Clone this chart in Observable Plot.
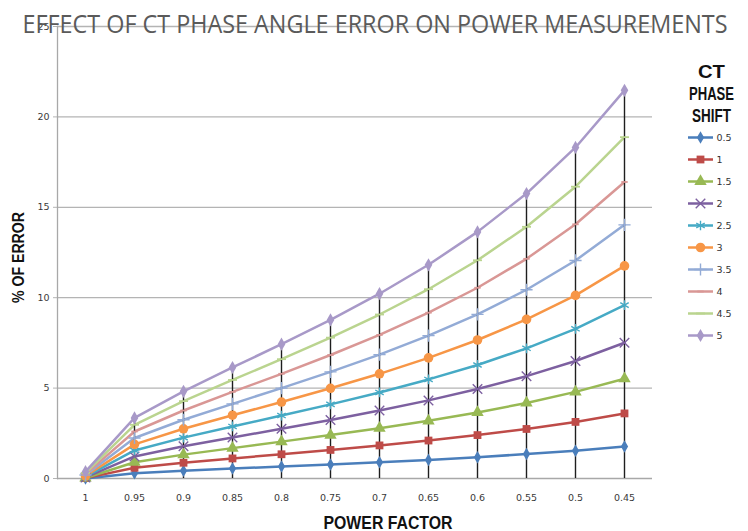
<!DOCTYPE html>
<html>
<head>
<meta charset="utf-8">
<script src="https://cdn.jsdelivr.net/npm/d3@7"></script>
<script src="https://cdn.jsdelivr.net/npm/@observablehq/plot@0.6"></script>
<style>
  html, body { margin: 0; padding: 0; background: #fff; }
  #wrap { position: relative; width: 748px; height: 531px; overflow: hidden; }
  #legend { position: absolute; left: 650px; top: 126px; width: 98px; height: 220px; }
  #legend svg { max-width: none; }
</style>
</head>
<body>
<div id="wrap"><div id="chart"></div><div id="legend"></div></div>
<script>
// ---- data ----
const powerFactors = ["1", "0.95", "0.9", "0.85", "0.8", "0.75", "0.7", "0.65", "0.6", "0.55", "0.5", "0.45"];
const phaseShifts = ["0.5", "1", "1.5", "2", "2.5", "3", "3.5", "4", "4.5", "5"];
const err05 = [0.00, 0.29, 0.43, 0.55, 0.66, 0.78, 0.90, 1.03, 1.18, 1.35, 1.54, 1.77];
const err10 = [0.02, 0.59, 0.87, 1.11, 1.34, 1.58, 1.83, 2.10, 2.40, 2.74, 3.13, 3.60];
const err15 = [0.03, 0.90, 1.32, 1.68, 2.04, 2.40, 2.78, 3.19, 3.65, 4.18, 4.79, 5.52];
const err20 = [0.06, 1.22, 1.78, 2.27, 2.75, 3.24, 3.76, 4.32, 4.95, 5.66, 6.50, 7.51];
const err25 = [0.10, 1.55, 2.26, 2.88, 3.48, 4.10, 4.76, 5.48, 6.28, 7.20, 8.28, 9.59];
const err30 = [0.14, 1.89, 2.75, 3.50, 4.23, 4.99, 5.79, 6.67, 7.66, 8.80, 10.13, 11.76];
const err35 = [0.19, 2.24, 3.25, 4.13, 5.00, 5.90, 6.85, 7.90, 9.08, 10.44, 12.06, 14.03];
const err40 = [0.24, 2.60, 3.76, 4.79, 5.79, 6.83, 7.94, 9.17, 10.55, 12.15, 14.06, 16.40];
const err45 = [0.31, 2.97, 4.28, 5.45, 6.60, 7.79, 9.07, 10.47, 12.07, 13.92, 16.14, 18.88];
const err50 = [0.38, 3.35, 4.82, 6.14, 7.43, 8.77, 10.22, 11.82, 13.64, 15.76, 18.31, 21.47];
const yTicks = [0, 5, 10, 15, 20, 25];
const titleText = "EFFECT OF CT PHASE ANGLE ERROR ON POWER MEASUREMENTS";
const yTitle = "% OF ERROR";
const xTitle = "POWER FACTOR";
const legendTitleLines = ["CT", "PHASE", "SHIFT"];

// ---- styles ----
const colors = ["#4A7EBB", "#BE4B48", "#98B954", "#7D60A0", "#46AAC5", "#F79646", "#93ABD6", "#D99795", "#BAD48F", "#A899C8"];
function dash(halfLen) {
  return { draw(ctx) { ctx.moveTo(-halfLen, -0.9); ctx.lineTo(halfLen, -0.9); ctx.lineTo(halfLen, 0.9); ctx.lineTo(-halfLen, 0.9); ctx.closePath(); } };
}
const markers = [
  { symbol: "diamond", r: 3.8, filled: true },
  { symbol: "square", r: 4.4, filled: true },
  { symbol: "triangle", r: 4.6, filled: true },
  { symbol: "times", r: 4.4, filled: false },
  { symbol: "asterisk", r: 4.6, filled: false },
  { symbol: "circle", r: 4.8, filled: true },
  { symbol: "plus", r: 4, filled: false },
  { symbol: dash(3.2), r: 3, filled: true },
  { symbol: dash(4.5), r: 3, filled: true },
  { symbol: "diamond", r: 4, filled: true }
];

// ---- tidy table ----
const allSeries = [err05, err10, err15, err20, err25, err30, err35, err40, err45, err50];
const rows = [];
allSeries.forEach((vals, si) => vals.forEach((v, pi) => rows.push({ shift: phaseShifts[si], pf: powerFactors[pi], err: v })));
const drops = powerFactors.map((pf, i) => ({ pf, top: err50[i] }));

function markerOpts(i, base) {
  const m = markers[i];
  const opts = Object.assign({ symbol: m.symbol, r: m.r }, base);
  if (m.filled) { opts.fill = colors[i]; opts.stroke = "none"; }
  else { opts.stroke = colors[i]; opts.strokeWidth = 1.4; opts.fill = "none"; }
  return opts;
}
const markerMarks = phaseShifts.map((s, i) =>
  Plot.dot(rows.filter(d => d.shift === s), markerOpts(i, { x: "pf", y: "err" })));

const bold = { fontSize: 18, fontWeight: "bold", fill: "#111", fontFamily: "Liberation Sans", textAnchor: "middle" };

const chart = Plot.plot({
  width: 748,
  height: 531,
  marginLeft: 57,
  marginRight: 96,
  marginTop: 26,
  marginBottom: 53,
  style: { fontFamily: "DejaVu Sans", fontSize: "9.5px", color: "#3a3a3a", background: "#fff" },
  x: { type: "point", domain: powerFactors, padding: 0.5 },
  y: { domain: [0, 25] },
  color: { domain: phaseShifts, range: colors },
  marks: [
    Plot.gridY({ ticks: [5, 10, 15, 20, 25], stroke: "#b4b4b4", strokeOpacity: 1, strokeWidth: 1.3 }),
    Plot.axisY({ ticks: yTicks, tickSize: 4, tickPadding: 4, stroke: "#b4b4b4", label: null }),
    Plot.axisX({ tickSize: 0, tickPadding: 16, label: null }),
    Plot.frame({ anchor: "left", stroke: "#a8a8a8", strokeWidth: 1.3 }),
    Plot.ruleY([0], { stroke: "#a8a8a8", strokeWidth: 1.3 }),
    Plot.line(rows, { x: "pf", y: "err", z: "shift", stroke: "shift", strokeWidth: 2.5 }),
    Plot.ruleX(drops, { x: "pf", y1: 0, y2: "top", stroke: "#1e1e1e", strokeWidth: 1.4 }),
    ...markerMarks,
    Plot.text([titleText], { frameAnchor: "top", dx: 20, dy: 6, lineAnchor: "bottom", textAnchor: "middle", fontSize: 25, fill: "#5a5a5a", fontFamily: "Open Sans" }),
    Plot.text([yTitle], { ...bold, fontSize: 17, frameAnchor: "left", rotate: -90, dx: -39, dy: 5, lineAnchor: "middle" }),
    Plot.text([xTitle], { ...bold, frameAnchor: "bottom", dx: 33, dy: 50, lineAnchor: "bottom" }),
    ...legendTitleLines.map((t, i) =>
      Plot.text([t], { ...bold, frameAnchor: "top-right", dx: 59, dy: 51 + 22 * i, lineAnchor: "bottom" }))
  ]
});
document.getElementById("chart").appendChild(chart);

// condensed look for titles
const fit = { [titleText]: 705, [yTitle]: 91, [xTitle]: 129, "CT": 27, "PHASE": 45, "SHIFT": 39 };
d3.select(chart).selectAll("text").each(function () {
  const t = this.textContent;
  if (fit[t] !== undefined) {
    this.setAttribute("textLength", fit[t]);
    this.setAttribute("lengthAdjust", "spacingAndGlyphs");
  }
});

// ---- legend ----
const legend = Plot.plot({
  width: 98,
  height: 220,
  margin: 0,
  style: { fontFamily: "DejaVu Sans", fontSize: "9.5px", color: "#3a3a3a", background: "transparent" },
  x: { domain: [0, 98], range: [0, 98], axis: null },
  y: { type: "point", domain: phaseShifts, range: [11, 209], padding: 0, axis: null },
  color: { domain: phaseShifts, range: colors },
  marks: [
    Plot.ruleY(phaseShifts, { y: d => d, x1: 38, x2: 63, stroke: d => d, strokeWidth: 2.5 }),
    ...phaseShifts.map((s, i) => Plot.dot([s], markerOpts(i, { x: 50, y: d => d }))),
    Plot.text(phaseShifts, { x: 66, y: d => d, text: d => d, textAnchor: "start", fill: "#333" })
  ]
});
document.getElementById("legend").appendChild(legend);
</script>
</body>
</html>
